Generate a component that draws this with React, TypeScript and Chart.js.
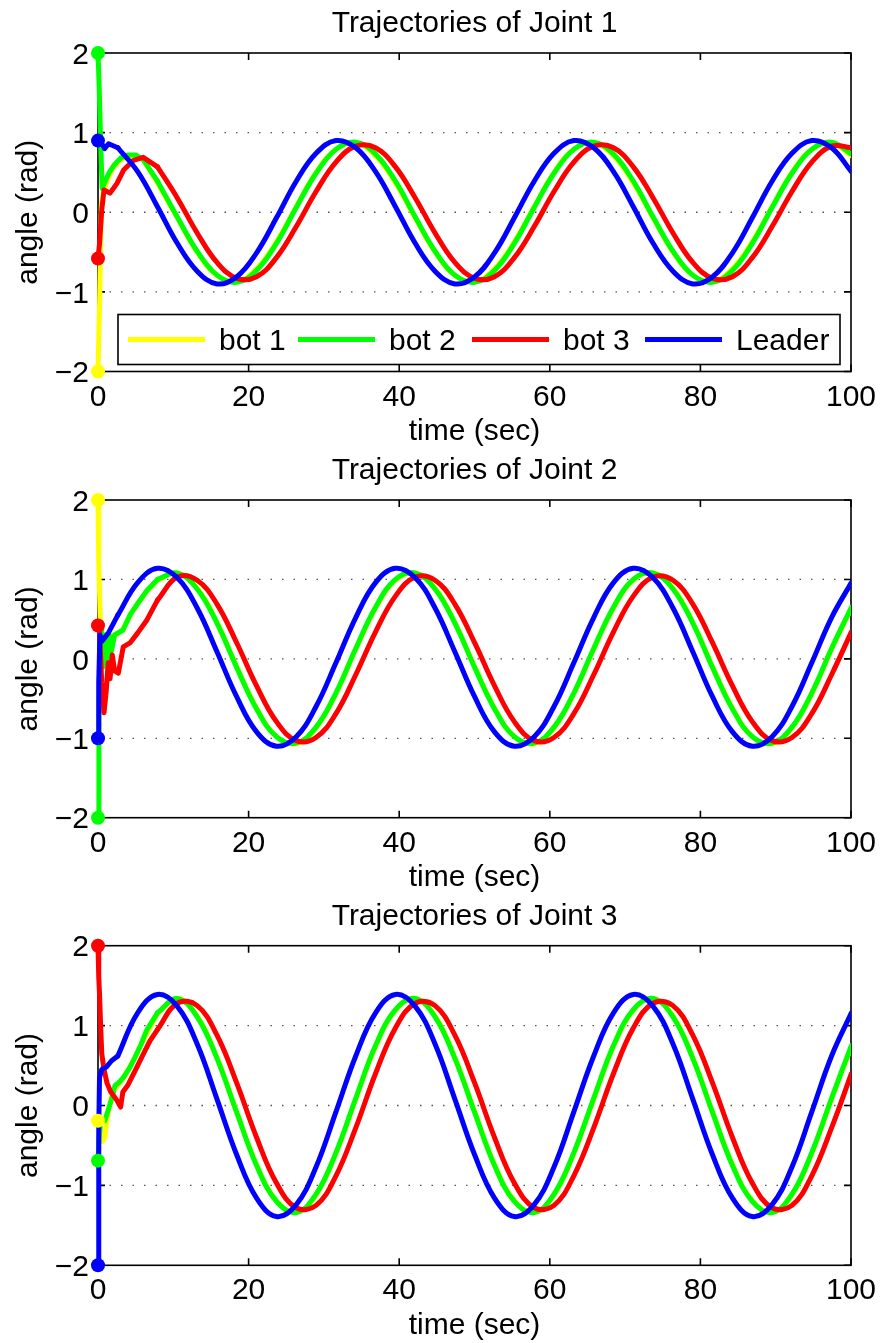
import React, { useEffect, useRef } from "react";
import { Chart, registerables } from "chart.js";

Chart.register(...registerables);

const FONT = "30px 'Liberation Sans', Arial, Helvetica, sans-serif";

const X_TICKS = [0, 20, 40, 60, 80, 100];
const Y_TICKS = [-2, -1, 0, 1, 2];
const Y_TICK_LABELS = ["\u22122", "\u22121", "0", "1", "2"];
const GRID_Y = [-1, 0, 1];
const SERIES_NAMES = ["bot 1", "bot 2", "bot 3", "Leader"];
const SERIES_COLORS = ["#ffff00", "#00ff00", "#ff0000", "#0000ff"];
const TITLES = ["Trajectories of Joint 1", "Trajectories of Joint 2", "Trajectories of Joint 3"];
const X_LABEL = "time (sec)";
const Y_LABEL = "angle (rad)";

// common sampling times (sec)
const GRID_T = [0, 2.63, 5.27, 7.9, 10.53, 13.17, 15.8, 18.43, 21.06, 23.7, 26.33, 28.96,
  31.6, 34.23, 36.86, 39.5, 42.13, 44.76, 47.39, 50.03, 52.66, 55.29, 57.93, 60.56,
  63.19, 65.83, 68.46, 71.09, 73.72, 76.36, 78.99, 81.62, 84.26, 86.89, 89.52, 92.16,
  94.79, 97.42, 100.05];

// ---------- Joint 1 ----------
const J1_BOT1_T0 = [0, 0.2, 0.45, 0.7, 1.2, 2.0, 3.0, 4.0, 5.0, 6.0];
const J1_BOT1_Y0 = [-2, -1.2, 0.1, 0.25, 0.4, 0.56, 0.66, 0.7, 0.71, 0.66];
const J1_BOT1_Y = [null, null, null, 0.37, -0.07, -0.50, -0.79, -0.87, -0.71, -0.37, 0.07, 0.50,
  0.79, 0.87, 0.71, 0.37, -0.07, -0.50, -0.79, -0.87, -0.71, -0.37, 0.07, 0.50,
  0.79, 0.87, 0.71, 0.37, -0.07, -0.50, -0.79, -0.87, -0.71, -0.37, 0.07, 0.50,
  0.79, 0.87, 0.71];

const J1_BOT2_T0 = [0, 0.15, 0.35, 0.55, 0.9, 1.5, 2.2, 3.0, 4.0, 5.0, 6.0];
const J1_BOT2_Y0 = [2, 1.6, 0.9, 0.3, 0.38, 0.5, 0.6, 0.68, 0.72, 0.72, 0.66];
const J1_BOT2_Y = [null, null, null, 0.39, -0.06, -0.49, -0.79, -0.88, -0.73, -0.39, 0.06, 0.49,
  0.79, 0.88, 0.73, 0.39, -0.06, -0.49, -0.79, -0.88, -0.73, -0.39, 0.06, 0.49,
  0.79, 0.88, 0.73, 0.39, -0.06, -0.49, -0.79, -0.88, -0.73, -0.39, 0.06, 0.49,
  0.79, 0.88, 0.73];

const J1_BOT3_T0 = [0, 0.2, 0.5, 0.8, 1.6, 2.5, 3.4, 4.7, 6.0];
const J1_BOT3_Y0 = [-0.58, -0.4, 0.03, 0.28, 0.24, 0.36, 0.53, 0.65, 0.69];
const J1_BOT3_Y = [null, null, null, 0.57, 0.18, -0.26, -0.63, -0.83, -0.81, -0.57, -0.18, 0.26,
  0.63, 0.83, 0.81, 0.57, 0.18, -0.26, -0.63, -0.83, -0.81, -0.57, -0.18, 0.26,
  0.63, 0.83, 0.81, 0.57, 0.18, -0.26, -0.63, -0.83, -0.81, -0.57, -0.18, 0.26,
  0.63, 0.83, 0.81];

const J1_LEADER_T0 = [0, 0.5, 0.9, 1.4];
const J1_LEADER_Y0 = [0.9, 0.86, 0.8, 0.86];
const J1_LEADER_Y = [null, 0.81, 0.51, 0.07, -0.39, -0.74, -0.90, -0.81, -0.51, -0.07, 0.39, 0.74,
  0.90, 0.81, 0.51, 0.07, -0.39, -0.74, -0.90, -0.81, -0.51, -0.07, 0.39, 0.74,
  0.90, 0.81, 0.51, 0.07, -0.39, -0.74, -0.90, -0.81, -0.51, -0.07, 0.39, 0.74,
  0.90, 0.81, 0.51];

// ---------- Joint 2 ----------
const J2_BOT1_T0 = [0, 0.1, 0.3, 0.5, 0.8, 1.1, 1.5, 2.0, 2.6, 3.3, 4.3, 5.3, 6.5];
const J2_BOT1_Y0 = [2, 1.2, 0.5, 0.3, 0.1, 0.25, 0.15, 0.3, 0.32, 0.37, 0.56, 0.7, 0.85];
const J2_BOT1_Y = [null, null, null, 0.99, 1.08, 0.89, 0.46, -0.10, -0.62, -0.98, -1.07, -0.87,
  -0.44, 0.12, 0.64, 0.99, 1.08, 0.89, 0.46, -0.10, -0.62, -0.98, -1.07, -0.87,
  -0.44, 0.12, 0.64, 0.99, 1.08, 0.89, 0.46, -0.10, -0.62, -0.98, -1.07, -0.87,
  -0.44, 0.12, 0.64];

const J2_BOT2_T0 = [0, 0.12, 0.25, 0.45, 0.7, 0.95, 1.2, 1.5, 1.8, 2.2, 3.3, 4.3, 5.3, 6.5];
const J2_BOT2_Y0 = [-2, -0.8, 0.4, 0.45, -0.1, 0.3, -0.05, 0.3, 0.1, 0.3, 0.36, 0.56, 0.7, 0.86];
const J2_BOT2_Y = [null, null, null, 1.00, 1.08, 0.88, 0.45, -0.11, -0.63, -0.98, -1.06, -0.86,
  -0.43, 0.13, 0.65, 1.00, 1.08, 0.88, 0.45, -0.11, -0.63, -0.98, -1.06, -0.86,
  -0.43, 0.13, 0.65, 1.00, 1.08, 0.88, 0.45, -0.11, -0.63, -0.98, -1.06, -0.86,
  -0.43, 0.13, 0.65];

const J2_BOT3_T0 = [0, 0.2, 0.5, 0.8, 1.1, 1.35, 1.6, 1.9, 2.2, 2.7, 3.35, 4.25, 5.3, 6.5];
const J2_BOT3_Y0 = [0.42, 0.35, -0.3, -0.68, -0.4, -0.05, -0.25, 0.05, -0.15, -0.18, 0.15, 0.2, 0.33, 0.49];
const J2_BOT3_Y = [null, null, null, 0.74, 1.03, 0.99, 0.69, 0.20, -0.34, -0.79, -1.03, -0.99,
  -0.69, -0.20, 0.34, 0.79, 1.03, 0.99, 0.69, 0.20, -0.34, -0.79, -1.03, -0.99,
  -0.69, -0.20, 0.34, 0.79, 1.03, 0.99, 0.69, 0.20, -0.34, -0.79, -1.03, -0.99,
  -0.69, -0.20, 0.34];

const J2_LEADER_T0 = [0, 0.1, 0.25, 0.5, 1.0, 1.4];
const J2_LEADER_Y0 = [-1, -0.3, 0.3, 0.22, 0.28, 0.33];
const J2_LEADER_Y = [null, 0.55, 0.96, 1.14, 1.02, 0.64, 0.09, -0.48, -0.92, -1.10, -0.98, -0.60,
  -0.05, 0.52, 0.96, 1.14, 1.02, 0.64, 0.09, -0.48, -0.92, -1.10, -0.98, -0.60,
  -0.05, 0.52, 0.96, 1.14, 1.02, 0.64, 0.09, -0.48, -0.92, -1.10, -0.98, -0.60,
  -0.05, 0.52, 0.96];

// ---------- Joint 3 ----------
const J3_BOT1_T0 = [0, 0.3, 0.6, 0.9, 1.3, 1.8, 2.3, 2.8, 3.5, 4.5, 5.5, 6.5];
const J3_BOT1_Y0 = [-0.19, -0.3, -0.45, -0.4, -0.1, 0.1, 0.22, 0.27, 0.36, 0.53, 0.72, 0.9];
const J3_BOT1_Y = [null, null, null, 1.15, 1.34, 1.12, 0.60, -0.08, -0.74, -1.19, -1.34, -1.12,
  -0.60, 0.08, 0.74, 1.19, 1.34, 1.12, 0.60, -0.08, -0.74, -1.19, -1.34, -1.12,
  -0.60, 0.08, 0.74, 1.19, 1.34, 1.12, 0.60, -0.08, -0.74, -1.19, -1.34, -1.12,
  -0.60, 0.08, 0.74];

const J3_BOT2_T0 = [0, 0.15, 0.4, 0.9, 1.35, 1.8, 2.25, 2.7, 3.35, 4.2, 4.9, 5.7, 6.45];
const J3_BOT2_Y0 = [-0.69, -0.4, -0.17, -0.19, -0.06, 0.08, 0.25, 0.28, 0.35, 0.47, 0.6, 0.76, 0.94];
const J3_BOT2_Y = [null, null, null, 1.16, 1.34, 1.11, 0.59, -0.09, -0.75, -1.20, -1.34, -1.11,
  -0.59, 0.09, 0.75, 1.20, 1.34, 1.11, 0.59, -0.09, -0.75, -1.20, -1.34, -1.11,
  -0.59, 0.09, 0.75, 1.20, 1.34, 1.11, 0.59, -0.09, -0.75, -1.20, -1.34, -1.11,
  -0.59, 0.09, 0.75];

const J3_BOT3_T0 = [0, 0.1, 0.2, 0.35, 0.5, 0.8, 1.2, 1.7, 2.4, 3.0, 3.3, 4.0, 5.0, 6.0, 6.9];
const J3_BOT3_Y0 = [2, 1.6, 1.4, 1.0, 0.65, 0.45, 0.28, 0.17, 0.08, -0.02, 0.17, 0.26, 0.45, 0.64, 0.81];
const J3_BOT3_Y = [null, null, null, 0.95, 1.28, 1.25, 0.88, 0.28, -0.40, -0.97, -1.28, -1.25,
  -0.88, -0.28, 0.40, 0.97, 1.28, 1.25, 0.88, 0.28, -0.40, -0.97, -1.28, -1.25,
  -0.88, -0.28, 0.40, 0.97, 1.28, 1.25, 0.88, 0.28, -0.40, -0.97, -1.28, -1.25,
  -0.88, -0.28, 0.40];

const J3_LEADER_T0 = [0, 0.1, 0.2, 0.5, 1.1, 1.8];
const J3_LEADER_Y0 = [-2, -0.3, 0.35, 0.45, 0.48, 0.56];
const J3_LEADER_Y = [null, 0.62, 1.16, 1.39, 1.24, 0.77, 0.08, -0.62, -1.16, -1.39, -1.24, -0.77,
  -0.08, 0.62, 1.16, 1.39, 1.24, 0.77, 0.08, -0.62, -1.16, -1.39, -1.24, -0.77,
  -0.08, 0.62, 1.16, 1.39, 1.24, 0.77, 0.08, -0.62, -1.16, -1.39, -1.24, -0.77,
  -0.08, 0.62, 1.16];

type Series = { t0: number[]; y0: number[]; y: (number | null)[] };

const JOINTS: Series[][] = [
  [
    { t0: J1_BOT1_T0, y0: J1_BOT1_Y0, y: J1_BOT1_Y },
    { t0: J1_BOT2_T0, y0: J1_BOT2_Y0, y: J1_BOT2_Y },
    { t0: J1_BOT3_T0, y0: J1_BOT3_Y0, y: J1_BOT3_Y },
    { t0: J1_LEADER_T0, y0: J1_LEADER_Y0, y: J1_LEADER_Y },
  ],
  [
    { t0: J2_BOT1_T0, y0: J2_BOT1_Y0, y: J2_BOT1_Y },
    { t0: J2_BOT2_T0, y0: J2_BOT2_Y0, y: J2_BOT2_Y },
    { t0: J2_BOT3_T0, y0: J2_BOT3_Y0, y: J2_BOT3_Y },
    { t0: J2_LEADER_T0, y0: J2_LEADER_Y0, y: J2_LEADER_Y },
  ],
  [
    { t0: J3_BOT1_T0, y0: J3_BOT1_Y0, y: J3_BOT1_Y },
    { t0: J3_BOT2_T0, y0: J3_BOT2_Y0, y: J3_BOT2_Y },
    { t0: J3_BOT3_T0, y0: J3_BOT3_Y0, y: J3_BOT3_Y },
    { t0: J3_LEADER_T0, y0: J3_LEADER_Y0, y: J3_LEADER_Y },
  ],
];

// canvas placement for each subplot (page px)
const CANVAS_TOPS = [0, 447, 894];
const CANVAS_HEIGHTS = [447, 447, 449];
const PADDINGS = [
  { left: 98, right: 32, top: 53, bottom: 75.5 },
  { left: 98, right: 32, top: 53, bottom: 76.3 },
  { left: 98, right: 32, top: 51.7, bottom: 77.7 },
];
const LEGEND_ITEM_X = [128, 298, 472, 645];

const CLIP = { left: 14, top: 14, right: 0, bottom: 14 };

function buildDatasets(series: Series[]) {
  const ds: any[] = [];
  const markers: { x: number; y: number }[] = [];
  series.forEach((s, i) => {
    const color = SERIES_COLORS[i];
    const main = GRID_T.map((t, k) => ({ x: t, y: s.y[k] })).filter((p) => p.y !== null) as { x: number; y: number }[];
    const trans = s.t0.map((t, k) => ({ x: t, y: s.y0[k] })).concat([main[0]]);
    markers.push(trans[0]);
    const common = {
      borderColor: color,
      backgroundColor: color,
      borderWidth: 5,
      fill: false,
      pointRadius: 0,
      pointHoverRadius: 0,
      order: 4 - i + 1,
      clip: CLIP,
      borderJoinStyle: "round",
      borderCapStyle: "round",
    };
    ds.push({ ...common, data: trans, tension: 0 });
    ds.push({ ...common, data: main, tension: 0.4 });
  });
  ds.push({
    data: markers,
    showLine: false,
    pointRadius: 7,
    pointHoverRadius: 7,
    pointBorderWidth: 0,
    pointBackgroundColor: SERIES_COLORS,
    borderColor: SERIES_COLORS,
    order: 0,
    clip: false,
  });
  return ds;
}

function makePlugin(idx: number) {
  return {
    id: "matlabAxes" + idx,
    beforeDatasetsDraw(chart: any) {
      const { ctx, chartArea: a, scales } = chart;
      const xs = scales.x;
      const ys = scales.y;
      ctx.save();
      // dotted y grid
      ctx.strokeStyle = "#555";
      ctx.lineWidth = 1.3;
      ctx.setLineDash([1.5, 10]);
      GRID_Y.forEach((v) => {
        const y = ys.getPixelForValue(v);
        ctx.beginPath();
        ctx.moveTo(a.left, y);
        ctx.lineTo(a.right, y);
        ctx.stroke();
      });
      ctx.setLineDash([]);
      // box
      ctx.strokeStyle = "#000";
      ctx.lineWidth = 1.6;
      ctx.strokeRect(a.left, a.top, a.right - a.left, a.bottom - a.top);
      // ticks (inward, mirrored)
      const tl = 7;
      ctx.beginPath();
      X_TICKS.forEach((v) => {
        const x = xs.getPixelForValue(v);
        ctx.moveTo(x, a.bottom);
        ctx.lineTo(x, a.bottom - tl);
        ctx.moveTo(x, a.top);
        ctx.lineTo(x, a.top + tl);
      });
      Y_TICKS.forEach((v) => {
        const y = ys.getPixelForValue(v);
        ctx.moveTo(a.left, y);
        ctx.lineTo(a.left + tl, y);
        ctx.moveTo(a.right, y);
        ctx.lineTo(a.right - tl, y);
      });
      ctx.stroke();
      ctx.restore();
    },
    afterDatasetsDraw(chart: any) {
      if (idx !== 0) return;
      const { ctx } = chart;
      ctx.save();
      const bx = 118, by = 314.5, bw = 722, bh = 50;
      ctx.fillStyle = "#fff";
      ctx.fillRect(bx, by, bw, bh);
      ctx.strokeStyle = "#000";
      ctx.lineWidth = 1.6;
      ctx.strokeRect(bx, by, bw, bh);
      const cy = by + bh / 2;
      ctx.font = FONT;
      ctx.textAlign = "left";
      ctx.textBaseline = "alphabetic";
      SERIES_NAMES.forEach((name, i) => {
        const x0 = LEGEND_ITEM_X[i];
        ctx.strokeStyle = SERIES_COLORS[i];
        ctx.lineWidth = 5;
        ctx.beginPath();
        ctx.moveTo(x0, cy);
        ctx.lineTo(x0 + 77, cy);
        ctx.stroke();
        ctx.fillStyle = "#000";
        ctx.fillText(name, x0 + 91, cy + 10.7);
      });
      ctx.restore();
    },
    afterDraw(chart: any) {
      const { ctx, chartArea: a, scales } = chart;
      const xs = scales.x;
      const ys = scales.y;
      ctx.save();
      ctx.fillStyle = "#000";
      ctx.font = FONT;
      ctx.textBaseline = "alphabetic";
      const cx = (a.left + a.right) / 2;
      // title
      ctx.textAlign = "center";
      ctx.fillText(TITLES[idx], cx, a.top - 21);
      // x tick labels
      X_TICKS.forEach((v) => {
        ctx.fillText(String(v), xs.getPixelForValue(v), a.bottom + 34);
      });
      // x label
      ctx.fillText(X_LABEL, cx, a.bottom + 68.5);
      // y tick labels
      ctx.textAlign = "right";
      Y_TICKS.forEach((v, i) => {
        ctx.fillText(Y_TICK_LABELS[i], a.left - 9, ys.getPixelForValue(v) + 10.7);
      });
      // y label
      ctx.translate(37, (a.top + a.bottom) / 2);
      ctx.rotate(-Math.PI / 2);
      ctx.textAlign = "center";
      ctx.fillText(Y_LABEL, 0, 0);
      ctx.restore();
    },
  };
}

function JointChart({ idx }: { idx: number }) {
  const ref = useRef<HTMLCanvasElement | null>(null);
  useEffect(() => {
    if (!ref.current) return;
    const chart = new Chart(ref.current, {
      type: "line",
      data: { datasets: buildDatasets(JOINTS[idx]) },
      options: {
        responsive: false,
        maintainAspectRatio: false,
        animation: false,
        devicePixelRatio: 1,
        events: [],
        layout: { padding: PADDINGS[idx] },
        plugins: { legend: { display: false }, tooltip: { enabled: false }, title: { display: false } },
        scales: {
          x: { type: "linear", min: 0, max: 100, display: false },
          y: { type: "linear", min: -2, max: 2, display: false },
        },
      },
      plugins: [makePlugin(idx)],
    } as any);
    return () => chart.destroy();
  }, [idx]);
  return (
    <canvas
      ref={ref}
      width={883}
      height={CANVAS_HEIGHTS[idx]}
      style={{ position: "absolute", left: 0, top: CANVAS_TOPS[idx], width: 883, height: CANVAS_HEIGHTS[idx], display: "block" }}
    />
  );
}

export default function App() {
  return (
    <div style={{ position: "absolute", left: 0, top: 0, width: 883, height: 1343, background: "#fff" }}>
      <JointChart idx={0} />
      <JointChart idx={1} />
      <JointChart idx={2} />
    </div>
  );
}
